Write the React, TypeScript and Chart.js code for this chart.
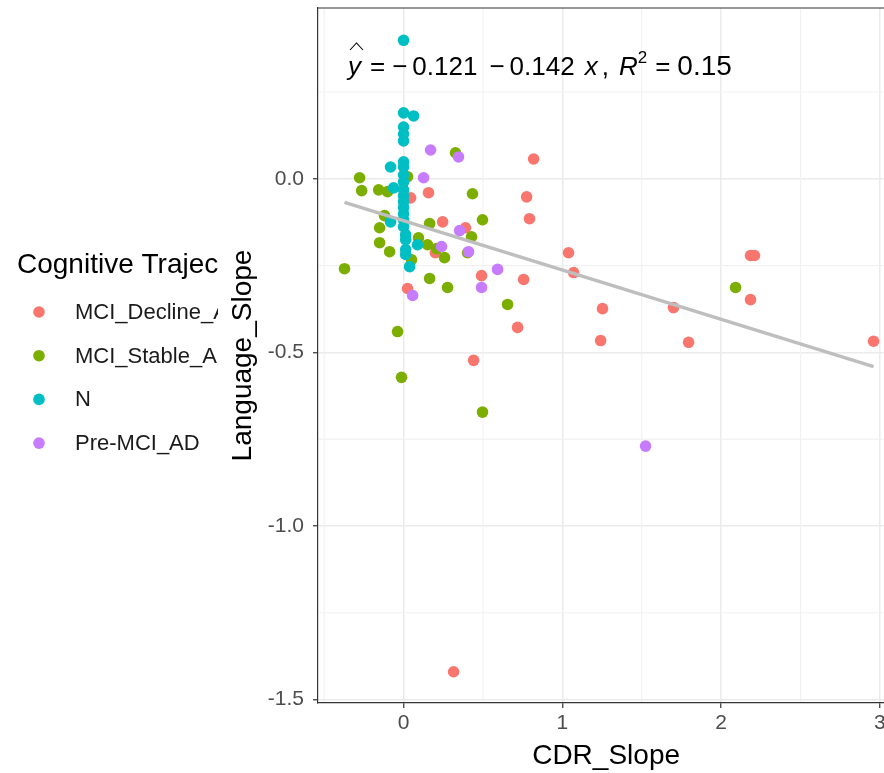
import React, { useEffect, useRef } from "react";
import { Chart, registerables } from "chart.js";

Chart.register(...registerables);

const FONT = '"Liberation Sans", Arial, Helvetica, sans-serif';

const GROUPS = ["MCI_Decline_AD", "MCI_Stable_AD", "N", "Pre-MCI_AD"];
const COLORS = ["#F8766D", "#7CAE00", "#00BFC4", "#C77CFF"];
const LEGEND_TITLE = "Cognitive Trajectory";
const X_TITLE = "CDR_Slope";
const Y_TITLE = "Language_Slope";

const DECLINE_X = [0.044, 0.157, 0.246, 0.39, 0.2, 0.025, 0.819, 0.775, 0.793, 1.039, 1.071, 0.491, 0.756, 0.718, 0.441, 1.253, 1.241, 1.7, 1.795, 2.185, 2.21, 2.185, 2.96, 0.315];
const DECLINE_Y = [-0.055, -0.04, -0.124, -0.141, -0.213, -0.316, 0.057, -0.052, -0.115, -0.213, -0.27, -0.279, -0.29, -0.428, -0.523, -0.374, -0.466, -0.371, -0.471, -0.221, -0.221, -0.348, -0.468, -1.42];

const STABLE_X = [-0.277, -0.264, -0.157, -0.101, 0.025, 0.327, 0.434, 0.497, -0.151, -0.151, -0.088, -0.372, 0.05, 0.164, 0.094, 0.151, 0.208, 0.258, 0.164, 0.277, 0.428, 0.403, -0.038, -0.013, 0.497, 0.655, 2.091, -0.12];
const STABLE_Y = [0.003, -0.034, -0.032, -0.037, 0.006, 0.075, -0.043, -0.118, -0.141, -0.184, -0.21, -0.259, -0.233, -0.129, -0.17, -0.19, -0.201, -0.227, -0.287, -0.313, -0.167, -0.213, -0.44, -0.572, -0.672, -0.362, -0.313, -0.106];

const N_X = [0, 0, 0.063, 0, 0, 0, -0.082, 0, 0, 0, 0, -0.063, 0, 0, 0, 0, 0, -0.082, 0, 0, 0.013, 0.013, 0.088, 0.013, 0.013, 0.038];
const N_Y = [0.399, 0.19, 0.181, 0.149, 0.129, 0.109, 0.034, 0.049, 0.034, 0.011, -0.009, -0.026, -0.032, -0.049, -0.066, -0.083, -0.101, -0.124, -0.118, -0.138, -0.161, -0.175, -0.19, -0.204, -0.218, -0.253];

const PRE_X = [0.17, 0.346, 0.126, 0.353, 0.409, 0.592, 0.491, 0.239, 0.057, 1.524];
const PRE_Y = [0.083, 0.063, 0.003, -0.149, -0.21, -0.261, -0.313, -0.195, -0.336, -0.77];

const X_TICKS = [0, 1, 2, 3];
const Y_TICKS = [-1.5, -1, -0.5, 0];
const X_MINOR = [-0.5, 0.5, 1.5, 2.5];
const Y_MINOR = [-1.25, -0.75, -0.25, 0.25];
const X_MIN = -0.539;
const X_MAX = 3.09;
const Y_MIN = -1.51;
const Y_MAX = 0.492;

const INTERCEPT = -0.121;
const SLOPE = -0.142;
const R2 = 0.15;

const SERIES_X = [DECLINE_X, STABLE_X, N_X, PRE_X];
const SERIES_Y = [DECLINE_Y, STABLE_Y, N_Y, PRE_Y];

function pts(xs: number[], ys: number[]) {
  return xs.map((x, i) => ({ x, y: ys[i] }));
}

const extrasPlugin = {
  id: "extras",
  beforeDatasetsDraw(chart: any) {
    const { ctx, chartArea: a, scales } = chart;
    ctx.save();
    ctx.strokeStyle = "#F1F1F1";
    ctx.lineWidth = 1.1;
    X_MINOR.forEach((v) => {
      const px = scales.x.getPixelForValue(v);
      ctx.beginPath();
      ctx.moveTo(px, a.top + 1);
      ctx.lineTo(px, a.bottom - 1);
      ctx.stroke();
    });
    Y_MINOR.forEach((v) => {
      const py = scales.y.getPixelForValue(v);
      ctx.beginPath();
      ctx.moveTo(a.left + 1, py);
      ctx.lineTo(a.right, py);
      ctx.stroke();
    });
    ctx.restore();
  },
  afterDatasetsDraw(chart: any) {
    const { ctx, chartArea: a } = chart;
    ctx.save();
    ctx.strokeStyle = "#333333";
    ctx.lineWidth = 1.2;
    ctx.beginPath();
    ctx.moveTo(a.left, a.top);
    ctx.lineTo(chart.width, a.top);
    ctx.stroke();

    // regression equation
    const size = 26;
    const base = 75;
    let x = a.left + 30;
    ctx.fillStyle = "#000";
    ctx.textBaseline = "alphabetic";
    ctx.textAlign = "left";
    const put = (t: string, italic = false, sz = size, dy = 0) => {
      ctx.font = `${italic ? "italic " : ""}${sz}px ${FONT}`;
      ctx.fillText(t, x, base + dy);
      const w = ctx.measureText(t).width;
      x += w;
      return w;
    };
    const gap = (g: number) => {
      x += g;
    };
    const yStart = x;
    const yw = put("y", true);
    ctx.strokeStyle = "#000";
    ctx.lineWidth = 1.1;
    ctx.beginPath();
    ctx.moveTo(yStart + 2, base - 25);
    ctx.lineTo(yStart + yw / 2 + 2, base - 32);
    ctx.lineTo(yStart + yw + 2, base - 25);
    ctx.stroke();
    gap(9);
    put("=");
    gap(7);
    put("\u2212");
    gap(5);
    put(Math.abs(INTERCEPT).toFixed(3));
    gap(12);
    put("\u2212");
    gap(5);
    put(Math.abs(SLOPE).toFixed(3));
    gap(10);
    put("x", true);
    gap(4);
    put(",");
    gap(10);
    put("R", true);
    put("2", false, 17, -12);
    gap(8);
    put("=");
    gap(7);
    put(R2.toFixed(2), false, 28);
    ctx.restore();
  },
  afterDraw(chart: any) {
    const { ctx } = chart;
    ctx.save();
    ctx.beginPath();
    ctx.rect(0, 0, 218, chart.height);
    ctx.clip();
    ctx.fillStyle = "#000";
    ctx.textBaseline = "middle";
    ctx.textAlign = "left";
    ctx.font = `28px ${FONT}`;
    ctx.fillText(LEGEND_TITLE, 17, 265);
    GROUPS.forEach((g, i) => {
      const cy = 312 + i * 43.7;
      ctx.fillStyle = COLORS[i];
      ctx.beginPath();
      ctx.arc(39, cy, 5.8, 0, Math.PI * 2);
      ctx.fill();
      ctx.fillStyle = "#1A1A1A";
      ctx.font = `22px ${FONT}`;
      ctx.fillText(g, 75, cy + 1);
    });
    ctx.restore();
  },
};

export default function App() {
  const ref = useRef<HTMLCanvasElement>(null);

  useEffect(() => {
    const canvas = ref.current;
    if (!canvas) return;
    Chart.defaults.font.family = FONT;

    const allX = SERIES_X.flat();
    const lx0 = Math.min(...allX);
    const lx1 = Math.max(...allX);

    const pointSets = GROUPS.map((g, i) => ({
      label: g,
      data: pts(SERIES_X[i], SERIES_Y[i]),
      backgroundColor: COLORS[i],
      borderWidth: 0,
      pointRadius: 5.8,
      pointHoverRadius: 5.8,
      order: 4 - i,
    }));

    const chart = new Chart(canvas, {
      type: "scatter",
      data: {
        datasets: [
          {
            label: "fit",
            data: [
              { x: lx0, y: INTERCEPT + SLOPE * lx0 },
              { x: lx1, y: INTERCEPT + SLOPE * lx1 },
            ],
            showLine: true,
            borderColor: "#BEBEBE",
            borderWidth: 3.4,
            pointRadius: 0,
            order: 0,
          } as any,
          ...pointSets,
        ],
      },
      options: {
        responsive: false,
        animation: false,
        devicePixelRatio: 1,
        layout: { padding: { top: 8, left: 0, right: 0, bottom: 0 } },
        plugins: {
          legend: { display: false },
          tooltip: { enabled: false },
        },
        scales: {
          x: {
            type: "linear",
            min: X_MIN,
            max: X_MAX,
            afterBuildTicks: (s: any) => {
              s.ticks = X_TICKS.map((v) => ({ value: v }));
            },
            afterFit: (s: any) => {
              s.height = 70;
              s.paddingLeft = 0;
              s.paddingRight = 0;
            },
            ticks: {
              font: { family: FONT, size: 21 },
              color: "#4D4D4D",
              padding: 3,
              maxRotation: 0,
              autoSkip: false,
              callback: (v: any) => String(v),
            },
            grid: {
              color: "#EBEBEB",
              lineWidth: 1.5,
              drawTicks: true,
              tickLength: 5,
              tickColor: "#333333",
              tickWidth: 1.2,
            },
            border: { display: true, color: "#333333", width: 1.2 },
            title: {
              display: true,
              text: X_TITLE,
              color: "#000",
              font: { family: FONT, size: 28 },
              padding: { top: 0, bottom: 0 },
            },
          },
          y: {
            type: "linear",
            min: Y_MIN,
            max: Y_MAX,
            afterBuildTicks: (s: any) => {
              s.ticks = Y_TICKS.map((v) => ({ value: v }));
            },
            afterFit: (s: any) => {
              s.width = 318;
              s.paddingTop = 0;
              s.paddingBottom = 0;
            },
            ticks: {
              font: { family: FONT, size: 21 },
              color: "#4D4D4D",
              padding: 9,
              autoSkip: false,
              callback: (v: any) => Number(v).toFixed(1),
            },
            grid: {
              color: "#EBEBEB",
              lineWidth: 1.5,
              drawTicks: true,
              tickLength: 5,
              tickColor: "#333333",
              tickWidth: 1.2,
            },
            border: { display: true, color: "#333333", width: 1.2 },
            title: {
              display: true,
              text: Y_TITLE,
              color: "#000",
              font: { family: FONT, size: 28 },
              padding: { top: 226, bottom: 0 },
            },
          },
        },
      },
      plugins: [extrasPlugin],
    });

    return () => chart.destroy();
  }, []);

  return (
    <div
      style={{
        position: "absolute",
        left: 0,
        top: 0,
        width: 884,
        height: 773,
        overflow: "hidden",
        background: "#ffffff",
      }}
    >
      <canvas ref={ref} width={900} height={773} style={{ display: "block", width: 900, height: 773 }} />
    </div>
  );
}
